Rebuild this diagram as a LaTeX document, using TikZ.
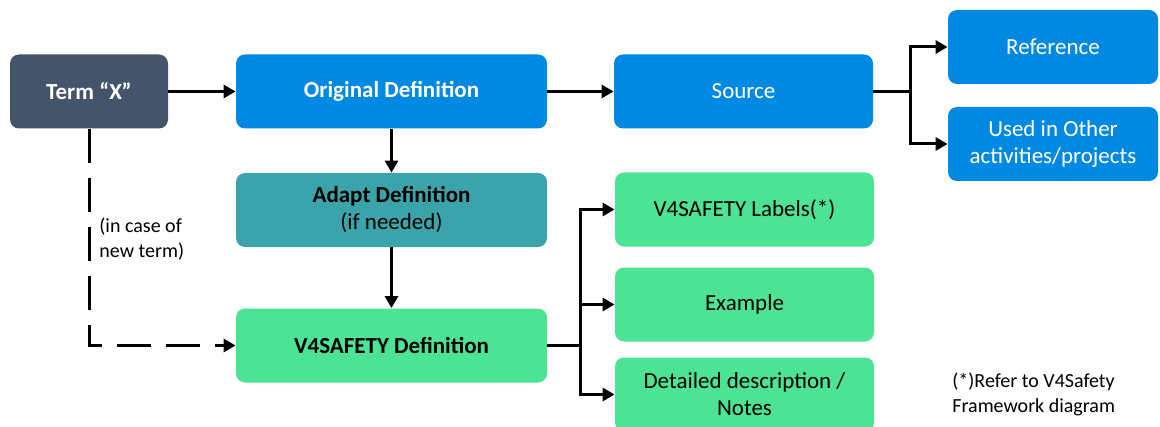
\documentclass[tikz,border=0pt]{standalone}
\usepackage{fontspec}
\setmainfont{Carlito}
\usetikzlibrary{arrows.meta}
\definecolor{slate}{RGB}{68,84,106}
\definecolor{blu}{RGB}{0,137,226}
\definecolor{teal2}{RGB}{58,164,170}
\definecolor{grn}{RGB}{76,227,148}
\tikzset{
  box/.style={rounded corners=4.5pt, minimum height=37pt, inner sep=2pt, align=center, font=\fontsize{11.5}{13.5}\selectfont},
  bluebox/.style={box, fill=blu, text=white},
  greenbox/.style={box, fill=grn, text=black},
  arr/.style={line width=1.5pt, -{Triangle[length=6pt,width=6.5pt]}},
  ln/.style={line width=1.5pt},
  note/.style={align=left, anchor=west, inner sep=0pt, font=\fontsize{10}{12.5}\selectfont}
}
\begin{document}
\begin{tikzpicture}[x=0.5pt,y=-0.5pt]
\useasboundingbox (0,0) rectangle (1160,427);
\node[box, fill=slate, text=white, minimum width=79pt, font=\fontsize{11.5}{13.5}\selectfont\bfseries] (term) at (89,91.5) {Term “X”};
\node[bluebox, minimum width=155.5pt, font=\fontsize{11.5}{13.5}\selectfont\bfseries] (orig) at (391.5,91.5) {Original Definition};
\node[bluebox, minimum width=129.5pt] (src) at (743.5,91.5) {Source};
\node[bluebox, minimum width=105pt] (ref) at (1053,47) {Reference};
\node[bluebox, minimum width=105pt] (used) at (1053,144) {Used in Other\\activities/projects};
\node[box, fill=teal2, text=black, minimum width=155.5pt] (adapt) at (391.5,210) {\textbf{Adapt Definition}\\(if needed)};
\node[greenbox, minimum width=155.5pt, font=\fontsize{11.5}{13.5}\selectfont\bfseries] (v4def) at (391.5,345.5) {V4SAFETY Definition};
\node[greenbox, minimum width=129.5pt] (labels) at (744.5,209.5) {V4SAFETY Labels(*)};
\node[greenbox, minimum width=129.5pt] (example) at (744.5,304.5) {Example};
\node[greenbox, minimum width=129.5pt] (detail) at (744.5,394.5) {Detailed description /\\Notes};
\node[note] (case) at (99,239) {(in case of\\new term)};
\node[note] (foot) at (952,394.5) {(*)Refer to V4Safety\\Framework diagram};
\coordinate (j1) at (910,91.5);
\coordinate (j2) at (580,345.5);
\draw[arr] (term.east) -- (orig.west);
\draw[arr] (orig.east) -- (src.west);
\draw[ln] (src.east) -- (j1);
\draw[arr] (j1) |- (ref.west);
\draw[arr] (j1) |- (used.west);
\draw[arr] (orig.south) -- (adapt.north);
\draw[arr] (adapt.south) -- (v4def.north);
\draw[arr, dash pattern=on 17pt off 7.5pt] (term.south) |- (v4def.west);
\draw[ln] (v4def.east) -- (j2);
\draw[arr] (j2) |- (labels.west);
\draw[arr] (j2) |- (example.west);
\draw[arr] (j2) |- (detail.west);
\end{tikzpicture}
\end{document}
